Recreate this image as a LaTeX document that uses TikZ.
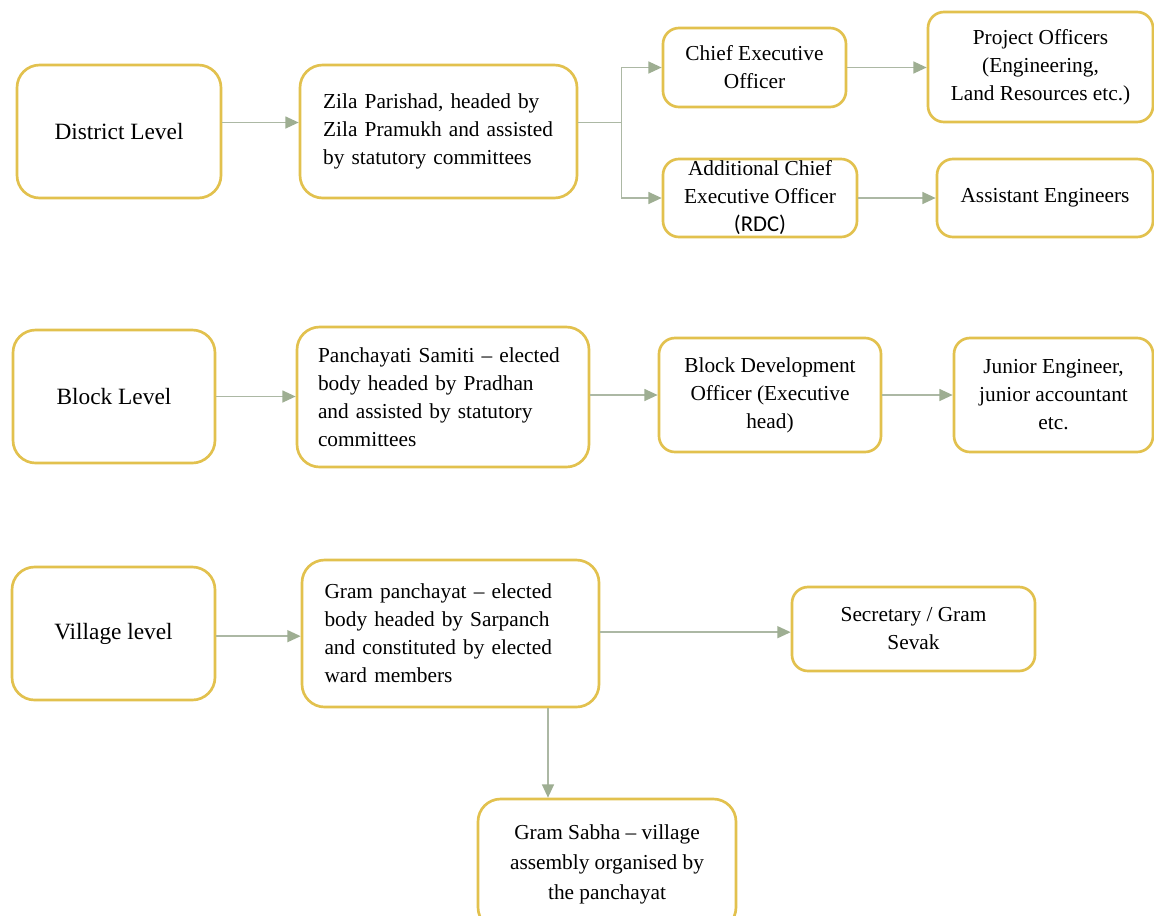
\documentclass[tikz,border=0pt]{standalone}
\usepackage{fontspec}
\setmainfont{Liberation Serif}
\newfontfamily\rdcfont{Carlito}
\usetikzlibrary{arrows.meta}
\definecolor{gold}{RGB}{226,193,78}
\definecolor{lineclr}{RGB}{172,184,164}
\definecolor{headclr}{RGB}{158,174,146}
\newcommand\jline[1]{\makebox[\linewidth][s]{#1}}
\tikzset{
  box/.style={draw=gold, line width=2pt, rounded corners=12pt, fill=white,
    inner sep=0pt, font=\fontsize{16}{21}\selectfont, align=center},
  bigbox/.style={box, rounded corners=17pt},
  sz/.style 2 args={minimum width=#1*0.75pt, minimum height=#2*0.75pt},
  lvl/.style={font=\fontsize{17.5}{21}\selectfont},
  conn/.style={draw=lineclr, line width=1.1pt},
  arr/.style={conn, -{Triangle[length=10pt,width=9pt,color=headclr]}},
}
\begin{document}
\begin{tikzpicture}[x=0.75pt,y=-0.75pt]
\useasboundingbox (0,0) rectangle (1154,915);
\fill[white] (0,0) rectangle (1154,915);

% Row 1
\node[bigbox, lvl, sz={204}{133}] (dist) at (119,131.5) {District Level};
\node[bigbox, sz={277}{133}, text width=173pt, align=left] (zila) at (438.5,131.5)
  {\jline{Zila Parishad, headed by}\\\jline{Zila Pramukh and assisted}\\by statutory committees};
\node[box, sz={183}{79}] (ceo) at (754.5,67.5) {Chief Executive\\Officer};
\node[box, sz={225}{110}] (proj) at (1040.5,67) {Project Officers\\(Engineering,\\Land Resources etc.)};
\node[box, sz={194}{78}] (aceo) at (760,198) {Additional Chief\\Executive Officer\\{\rdcfont\fontsize{17}{21}\selectfont (RDC)}};
\node[box, sz={216}{78}] (asst) at (1045,198) {Assistant Engineers};

% Row 2
\node[bigbox, lvl, sz={202}{133}] (block) at (114,396.5) {Block Level};
\node[bigbox, sz={292}{140}, text width=187.5pt, align=left] (ps) at (443,397)
  {Panchayati Samiti -- elected\\body headed by Pradhan\\and assisted by statutory\\committees};
\node[box, sz={222}{114}] (bdo) at (770,395) {Block Development\\Officer (Executive\\head)};
\node[box, sz={199}{114}] (je) at (1053.5,395) {Junior Engineer,\\junior accountant\\etc.};

% Row 3
\node[bigbox, lvl, sz={203}{133}] (vil) at (113.5,633.5) {Village level};
\node[bigbox, sz={297}{147}, text width=189pt, align=left] (gp) at (450.5,633.5)
  {\jline{Gram panchayat -- elected}\\\jline{body headed by Sarpanch}\\\jline{and constituted by elected}\\ward members};
\node[box, sz={243}{84}] (sec) at (913.5,629) {Secretary / Gram\\Sevak};
\node[bigbox, sz={258}{131}, font=\fontsize{16}{22.5}\selectfont] (gs) at (607,864.5)
  {Gram Sabha -- village\\assembly organised by\\the panchayat};

% Connectors
\draw[arr] ([yshift=6.75pt]dist.east) -- ([yshift=6.75pt]zila.west);
\draw[conn] ([yshift=6.75pt]zila.east) -- ++(43,0) coordinate (br);
\draw[arr] (br) |- (ceo.west);
\draw[arr] (br) |- (aceo.west);
\draw[arr] (ceo.east) -- (ceo.east -| proj.west);
\draw[arr] (aceo.east) -- (asst.west);

\draw[arr] (block.east) -- (block.east -| ps.west);
\draw[arr] (bdo.west -| ps.east) -- (bdo.west);
\draw[arr] (bdo.east) -- (je.west);

\draw[arr] ([yshift=-2pt]vil.east) -- ([yshift=-2pt]vil.east -| gp.west);
\draw[arr] ([yshift=1pt]gp.east) -- ([yshift=1pt]gp.east -| sec.west);
\coordinate (dn) at (548,0);
\draw[arr] (gp.south -| dn) -- (gs.north -| dn);
\end{tikzpicture}
\end{document}
